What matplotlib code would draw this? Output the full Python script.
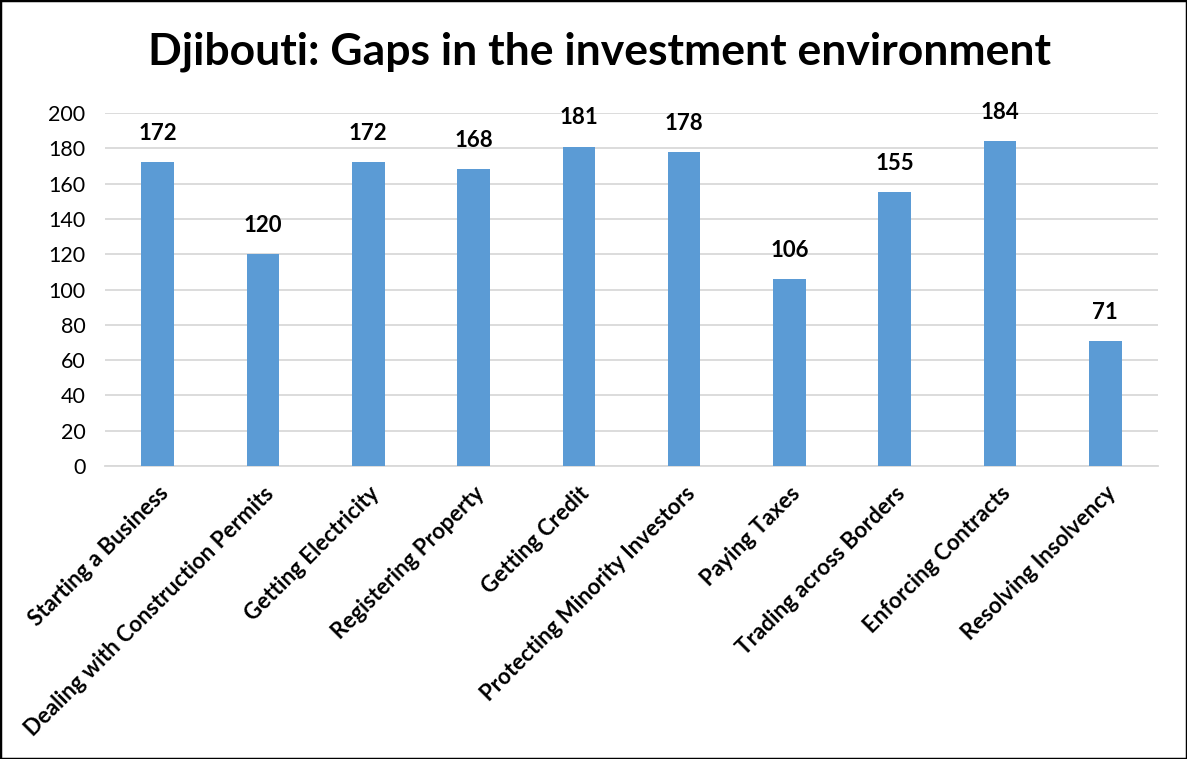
import matplotlib
matplotlib.use("Agg")
import matplotlib.pyplot as plt
from matplotlib.patches import Rectangle

categories = [
    "Starting a Business",
    "Dealing with Construction Permits",
    "Getting Electricity",
    "Registering Property",
    "Getting Credit",
    "Protecting Minority Investors",
    "Paying Taxes",
    "Trading across Borders",
    "Enforcing Contracts",
    "Resolving Insolvency",
]
ranks = [172, 120, 172, 168, 181, 178, 106, 155, 184, 71]
y_ticks = [0, 20, 40, 60, 80, 100, 120, 140, 160, 180, 200]

plt.rcParams["font.family"] = ["Lato", "DejaVu Sans"]

W, H = 1187, 759
fig = plt.figure(figsize=(W / 100, H / 100), dpi=100)
ax = fig.add_axes([105 / W, 1 - 466 / H, (1158 - 105) / W, (466 - 113) / H])

x = range(len(categories))
bars = ax.bar(x, ranks, width=0.31, color="#5B9BD5", zorder=3)

for xi, v in zip(x, ranks):
    ax.annotate(str(v), (xi, v), xytext=(0, 13), textcoords="offset points",
                ha="center", va="bottom", fontsize=16, fontweight="bold",
                color="black")

ax.set_xlim(-0.5, len(categories) - 0.5)
ax.set_ylim(0, 200)
ax.set_yticks(y_ticks)
ax.set_yticklabels([str(t) for t in y_ticks], fontsize=15.5)
ax.yaxis.grid(True, color="#D9D9D9", linewidth=1.3, zorder=0)
ax.set_axisbelow(True)

ax.set_xticks(list(x))
ax.set_xticklabels(categories, rotation=45, ha="right", rotation_mode="anchor",
                   fontsize=16, fontweight="bold")
ax.tick_params(axis="both", length=0)
ax.tick_params(axis="x", pad=12)
ax.tick_params(axis="y", pad=14)

for side in ["top", "right", "left"]:
    ax.spines[side].set_visible(False)
ax.spines["bottom"].set_color("#D9D9D9")
ax.spines["bottom"].set_linewidth(1.3)

fig.text(0.505, 1 - 52 / H, "Djibouti: Gaps in the investment environment",
         ha="center", va="center", fontsize=32, fontweight="bold")

fig.patches.append(Rectangle((0, 0), 1, 1, transform=fig.transFigure,
                             fill=False, edgecolor="black", linewidth=2.5))

fig.savefig("out.png", dpi=100)
